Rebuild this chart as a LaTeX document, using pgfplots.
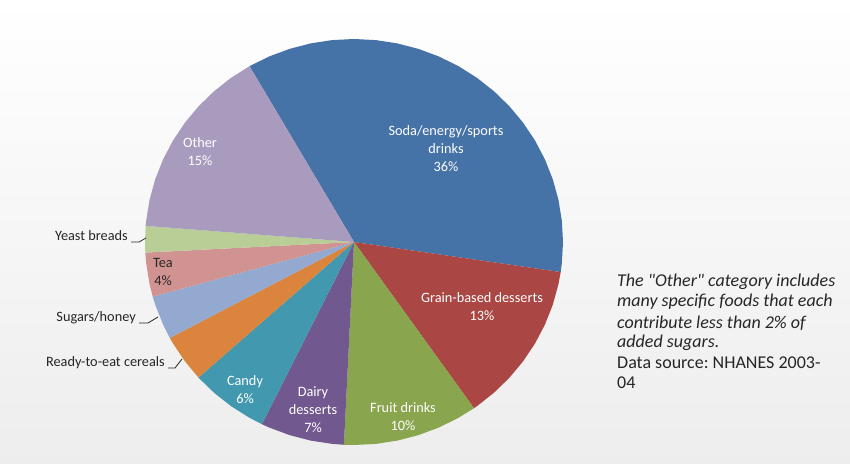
\documentclass[border=0pt]{standalone}
\usepackage{pgfplots}
\pgfplotsset{compat=1.18}
\usepackage{fontspec}
\setmainfont{Carlito}

\definecolor{soda}{HTML}{4572A7}
\definecolor{grain}{HTML}{AA4643}
\definecolor{fruit}{HTML}{89A54E}
\definecolor{dairy}{HTML}{71588F}
\definecolor{candy}{HTML}{4198AF}
\definecolor{cereal}{HTML}{DB843D}
\definecolor{sugar}{HTML}{93A9CF}
\definecolor{tea}{HTML}{D19392}
\definecolor{yeast}{HTML}{B9CD96}
\definecolor{other}{HTML}{A99BBD}
\definecolor{lbl}{HTML}{262626}

\begin{document}
\frenchspacing
\begin{tikzpicture}[x=1pt,y=1pt]
% page background
\shade[top color=white, bottom color=black!7] (0,0) rectangle (850,463);

% pie: shares 35.7, 12.9, 10.5, 6.5, 6.1, 3.8, 3.5, 3.5, 2.1, 15.4 (%)
% clockwise from 120 deg; (angle, radius) pairs
\begin{axis}[
    hide axis,
    x=209pt, y=203pt,
    xmin=-1, xmax=1, ymin=-1, ymax=1,
    anchor=south west, at={(145pt,18pt)},
    clip=false,
    every axis plot/.append style={draw=none, data cs=polar},
]
% Soda/energy/sports drinks 35.7
\addplot[fill=soda] coordinates {
    (0,0) (120,1) (114,1) (108,1) (102,1) (96,1) (90,1) (84,1) (78,1)
    (72,1) (66,1) (60,1) (54,1) (48,1) (42,1) (36,1) (30,1) (24,1)
    (18,1) (12,1) (6,1) (0,1) (-6,1) (-8.52,1)
};
% Grain-based desserts 12.9
\addplot[fill=grain] coordinates {
    (0,0) (-8.52,1) (-12,1) (-18,1) (-24,1) (-30,1) (-36,1) (-42,1)
    (-48,1) (-54,1) (-54.96,1)
};
% Fruit drinks 10.5
\addplot[fill=fruit] coordinates {
    (0,0) (-54.96,1) (-60,1) (-66,1) (-72,1) (-78,1) (-84,1) (-90,1)
    (-92.76,1)
};
% Dairy desserts 6.5
\addplot[fill=dairy] coordinates {
    (0,0) (-92.76,1) (-96,1) (-102,1) (-108,1) (-114,1) (-116.16,1)
};
% Candy 6.1
\addplot[fill=candy] coordinates {
    (0,0) (-116.16,1) (-120,1) (-126,1) (-132,1) (-138.12,1)
};
% Ready-to-eat cereals 3.8
\addplot[fill=cereal] coordinates {
    (0,0) (-138.12,1) (-144,1) (-150,1) (-151.80,1)
};
% Sugars/honey 3.5
\addplot[fill=sugar] coordinates {
    (0,0) (-151.80,1) (-156,1) (-162,1) (-164.40,1)
};
% Tea 3.5
\addplot[fill=tea] coordinates {
    (0,0) (-164.40,1) (-168,1) (-174,1) (-177,1)
};
% Yeast breads 2.1
\addplot[fill=yeast] coordinates {
    (0,0) (-177,1) (-180,1) (-184.56,1)
};
% Other 15.4
\addplot[fill=other] coordinates {
    (0,0) (-184.56,1) (-186,1) (-192,1) (-198,1) (-204,1) (-210,1)
    (-216,1) (-222,1) (-228,1) (-234,1) (-240,1)
};
\end{axis}

% labels inside slices (pixel positions, y measured from top)
\tikzset{inlbl/.style={text=white, align=center, inner sep=0pt,
    font=\fontsize{14.3}{18}\selectfont}}
\node[inlbl] at (446,463-149) {Soda/energy/sports\\drinks\\36\%};
\node[inlbl] at (482,463-307) {Grain-based desserts\\13\%};
\node[inlbl] at (403,463-417) {Fruit drinks\\10\%};
\node[inlbl] at (313,463-410) {Dairy\\desserts\\7\%};
\node[inlbl] at (245,463-390) {Candy\\6\%};
\node[inlbl] at (200,463-152) {Other\\15\%};
\node[inlbl, text=lbl] at (163,463-272) {Tea\\4\%};

% labels outside with leader lines
\tikzset{outlbl/.style={text=lbl, anchor=east, inner sep=0pt,
    font=\fontsize{14.3}{18}\selectfont}}
\node[outlbl] at (128,463-236) {Yeast breads};
\draw[lbl, line width=0.8pt] (131,463-242) -- (139,463-242) -- (146,463-238);
\node[outlbl] at (136,463-318) {Sugars/honey};
\draw[lbl, line width=0.8pt] (139,463-323) -- (148,463-323) -- (158,463-317);
\node[outlbl] at (165,463-363) {Ready-to-eat cereals};
\draw[lbl, line width=0.8pt] (168,463-368) -- (175,463-368) -- (182,463-359);

% note on the right
\tikzset{note/.style={text=lbl, anchor=base west, inner sep=0pt,
    font=\fontsize{18}{20}\selectfont}}
\node[note, font=\fontsize{18}{20}\selectfont\itshape] at (617,463-287) {The \textquotedbl Other\textquotedbl{} category includes};
\node[note, font=\fontsize{18}{20}\selectfont\itshape] at (617,463-307) {many specific foods that each};
\node[note, font=\fontsize{18}{20}\selectfont\itshape] at (617,463-328) {contribute less than 2\% of};
\node[note, font=\fontsize{18}{20}\selectfont\itshape] at (617,463-348) {added sugars.};
\node[note] at (617,463-368) {Data source: NHANES 2003-};
\node[note] at (617,463-388) {04};

\pgfresetboundingbox
\path[use as bounding box] (0,0) rectangle (850,463);
\end{tikzpicture}
\end{document}
